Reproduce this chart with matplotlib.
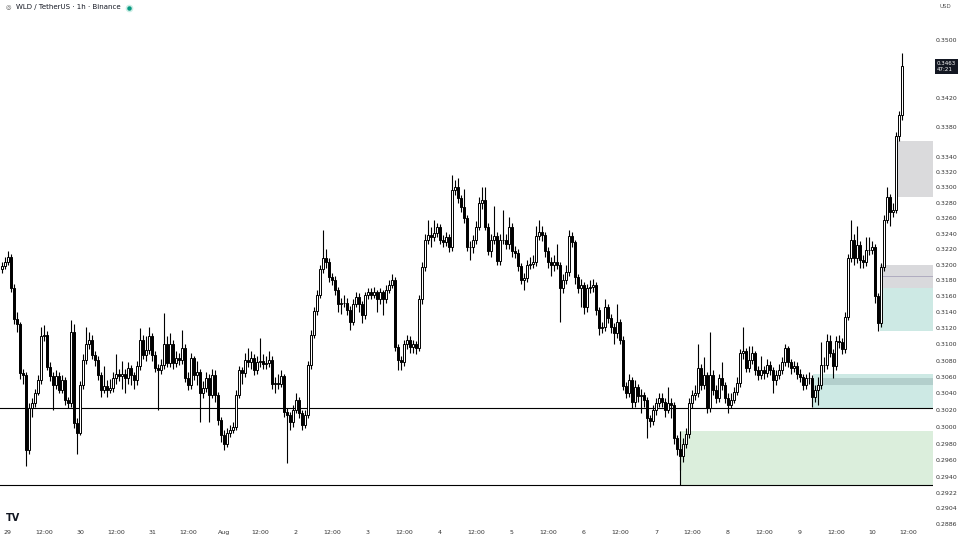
import matplotlib
matplotlib.use('Agg')
import matplotlib.pyplot as plt
import matplotlib.dates as mdates
import matplotlib.transforms as mtransforms
from matplotlib.patches import Rectangle
from matplotlib.ticker import FixedLocator, FixedFormatter, NullLocator
import numpy as np
import pandas as pd

# WLD/USDT 1h candles, prices in units of 0.0001
start = '2024-07-28 22:00'
first_open = 3195
closes = [
    3198, 3203, 3210, 3170, 3132, 3125, 3065, 3062, 2972, 3022,
    3028, 3041, 3056, 3111, 3112, 3072, 3061, 3050, 3061, 3044,
    3056, 3032, 3028, 3115, 3004, 2993, 3050, 3081, 3100, 3106,
    3087, 3081, 3062, 3044, 3049, 3044, 3047, 3059, 3064, 3061,
    3064, 3059, 3071, 3062, 3056, 3073, 3106, 3087, 3093, 3110,
    3087, 3071, 3069, 3075, 3100, 3077, 3100, 3077, 3083, 3081,
    3096, 3059, 3050, 3083, 3062, 3066, 3040, 3047, 3059, 3038,
    3062, 3038, 3008, 2990, 2980, 2993, 2996, 3000, 3038, 3068,
    3065, 3081, 3078, 3083, 3068, 3078, 3080, 3076, 3077, 3081,
    3052, 3053, 3052, 3061, 3018, 3014, 3006, 3020, 3032, 3017,
    3002, 3014, 3075, 3112, 3141, 3162, 3194, 3209, 3203, 3184,
    3181, 3168, 3150, 3152, 3152, 3143, 3128, 3150, 3159, 3150,
    3136, 3161, 3165, 3162, 3165, 3156, 3165, 3157, 3168, 3174,
    3181, 3097, 3081, 3078, 3100, 3106, 3097, 3100, 3096, 3156,
    3197, 3232, 3238, 3235, 3241, 3248, 3232, 3229, 3235, 3223,
    3297, 3300, 3286, 3275, 3260, 3223, 3222, 3232, 3249, 3279,
    3283, 3249, 3217, 3232, 3237, 3205, 3232, 3232, 3226, 3248,
    3217, 3215, 3198, 3180, 3183, 3200, 3201, 3203, 3237, 3242,
    3238, 3217, 3203, 3200, 3203, 3200, 3171, 3181, 3191, 3237,
    3229, 3184, 3171, 3174, 3146, 3171, 3172, 3174, 3143, 3120,
    3121, 3146, 3133, 3121, 3114, 3128, 3106, 3049, 3041, 3056,
    3030, 3048, 3037, 3038, 3032, 3010, 3007, 3020, 3028, 3034,
    3030, 3020, 3028, 3026, 2986, 2974, 2965, 2980, 2991, 3028,
    3038, 3040, 3071, 3050, 3062, 3023, 3062, 3044, 3035, 3059,
    3050, 3034, 3026, 3032, 3042, 3053, 3089, 3092, 3071, 3081,
    3089, 3069, 3062, 3069, 3065, 3075, 3069, 3056, 3062, 3069,
    3078, 3095, 3078, 3071, 3074, 3064, 3060, 3050, 3059, 3059,
    3036, 3044, 3050, 3075, 3075, 3104, 3090, 3073, 3104, 3103,
    3094, 3134, 3209, 3232, 3209, 3225, 3206, 3203, 3219, 3219,
    3222, 3160, 3127, 3197, 3258, 3288, 3268, 3271, 3368, 3396, 3463,
]
highs = [
    3204, 3210, 3218, 3214, 3175, 3140, 3128, 3070, 3066, 3028,
    3034, 3046, 3062, 3121, 3124, 3116, 3078, 3066, 3068, 3066,
    3062, 3060, 3036, 3130, 3125, 3010, 3055, 3088, 3121, 3115,
    3112, 3092, 3086, 3066, 3074, 3056, 3058, 3066, 3088, 3070,
    3080, 3070, 3078, 3075, 3066, 3080, 3120, 3112, 3110, 3122,
    3114, 3092, 3076, 3082, 3139, 3110, 3114, 3106, 3092, 3090,
    3118, 3100, 3066, 3090, 3086, 3080, 3070, 3055, 3066, 3064,
    3070, 3068, 3042, 3012, 2996, 2998, 3002, 3006, 3044, 3074,
    3072, 3090, 3095, 3092, 3088, 3086, 3108, 3088, 3086, 3092,
    3086, 3060, 3064, 3068, 3064, 3022, 3018, 3026, 3040, 3036,
    3020, 3020, 3080, 3118, 3146, 3168, 3200, 3245, 3220, 3208,
    3190, 3186, 3172, 3158, 3162, 3158, 3148, 3156, 3166, 3164,
    3154, 3166, 3170, 3170, 3172, 3168, 3170, 3168, 3174, 3180,
    3188, 3184, 3100, 3086, 3106, 3112, 3110, 3106, 3104, 3162,
    3204, 3240, 3258, 3248, 3258, 3254, 3252, 3238, 3242, 3240,
    3317, 3310, 3312, 3290, 3298, 3264, 3230, 3238, 3256, 3288,
    3301, 3301, 3254, 3240, 3276, 3242, 3240, 3271, 3240, 3262,
    3254, 3224, 3220, 3202, 3190, 3206, 3210, 3212, 3250, 3258,
    3250, 3242, 3222, 3210, 3212, 3226, 3204, 3188, 3200, 3245,
    3242, 3232, 3188, 3182, 3178, 3176, 3180, 3182, 3178, 3146,
    3128, 3156, 3150, 3138, 3126, 3150, 3132, 3110, 3054, 3064,
    3060, 3056, 3052, 3046, 3042, 3036, 3014, 3026, 3034, 3040,
    3040, 3034, 3048, 3034, 3030, 2990, 2980, 2986, 2998, 3034,
    3044, 3050, 3100, 3076, 3084, 3066, 3115, 3068, 3050, 3064,
    3078, 3054, 3040, 3040, 3048, 3060, 3094, 3121, 3096, 3098,
    3098, 3092, 3074, 3086, 3074, 3082, 3080, 3072, 3068, 3076,
    3084, 3100, 3098, 3082, 3080, 3078, 3070, 3064, 3064, 3066,
    3062, 3050, 3060, 3103, 3084, 3113, 3112, 3094, 3110, 3112,
    3108, 3140, 3214, 3258, 3240, 3250, 3230, 3212, 3236, 3236,
    3230, 3226, 3164, 3202, 3264, 3300, 3292, 3280, 3374, 3402, 3482,
]
lows = [
    3190, 3195, 3200, 3165, 3125, 3115, 3058, 3052, 2953, 2968,
    3012, 3024, 3038, 3052, 3104, 3068, 3055, 3020, 3045, 3040,
    3040, 3026, 3022, 3024, 2998, 2968, 2990, 3046, 3076, 3094,
    3082, 3074, 3056, 3036, 3040, 3036, 3040, 3042, 3052, 3055,
    3045, 3040, 3052, 3050, 3046, 3050, 3068, 3082, 3080, 3088,
    3080, 3066, 3020, 3064, 3070, 3072, 3072, 3070, 3072, 3075,
    3076, 3054, 3044, 3046, 3056, 3050, 3006, 3035, 3042, 3006,
    3034, 3030, 3002, 2982, 2972, 2976, 2988, 2992, 2996, 3034,
    3052, 3060, 3072, 3070, 3062, 3064, 3072, 3070, 3070, 3072,
    3046, 3040, 3046, 3048, 3012, 2957, 2996, 3000, 3016, 3010,
    2996, 2998, 3010, 3070, 3108, 3136, 3158, 3190, 3196, 3178,
    3174, 3162, 3140, 3138, 3146, 3136, 3118, 3124, 3146, 3140,
    3126, 3132, 3156, 3156, 3158, 3140, 3150, 3136, 3152, 3164,
    3170, 3092, 3069, 3068, 3074, 3094, 3090, 3090, 3088, 3092,
    3150, 3192, 3226, 3222, 3230, 3236, 3226, 3222, 3224, 3216,
    3218, 3290, 3280, 3268, 3254, 3218, 3206, 3215, 3226, 3244,
    3272, 3244, 3212, 3210, 3226, 3200, 3200, 3226, 3220, 3220,
    3210, 3208, 3192, 3176, 3168, 3178, 3194, 3196, 3198, 3232,
    3230, 3210, 3196, 3186, 3192, 3194, 3128, 3164, 3176, 3186,
    3222, 3176, 3164, 3146, 3138, 3140, 3164, 3166, 3136, 3112,
    3114, 3116, 3126, 3114, 3100, 3108, 3100, 3044, 3034, 3036,
    3022, 3024, 3030, 3016, 3024, 2987, 3000, 3002, 3014, 3024,
    3024, 3012, 3016, 3010, 2980, 2966, 2949, 2958, 2975, 2986,
    3022, 3032, 3036, 3044, 3046, 3016, 3018, 3038, 3028, 3030,
    3044, 3028, 3016, 3022, 3028, 3038, 3048, 3082, 3066, 3066,
    3076, 3062, 3056, 3058, 3058, 3060, 3062, 3041, 3050, 3058,
    3064, 3074, 3072, 3064, 3066, 3058, 3054, 3044, 3046, 3052,
    3024, 3030, 3026, 3046, 3066, 3070, 3084, 3059, 3068, 3096,
    3088, 3090, 3130, 3204, 3200, 3202, 3196, 3196, 3198, 3212,
    3214, 3152, 3116, 3122, 3192, 3254, 3250, 3262, 3266, 3362, 3390,
]

# drawn zones (left edge time, top price, bottom price, colour)
zone_left = ['2024-08-10 07:30', '2024-08-10 02:30', '2024-08-10 02:30',
             '2024-08-09 04:20', '2024-08-09 07:40', '2024-08-07 08:00']
zone_top = [0.3362, 0.3200, 0.3171, 0.3064, 0.3059, 0.2995]
zone_bottom = [0.3288, 0.3171, 0.3116, 0.3023, 0.3050, 0.2931]
zone_colour = ['#dadadc', '#d9d9dc', '#cde9e4', '#cde9e4', '#b3cfcc', '#dbeedc']

level_lines = [0.3023, 0.2931]
mid_line = 0.3185

price_ticks = [0.3500, 0.3420, 0.3380, 0.3340, 0.3320, 0.3300, 0.3280, 0.3260,
               0.3240, 0.3220, 0.3200, 0.3180, 0.3160, 0.3140, 0.3120, 0.3100,
               0.3080, 0.3060, 0.3040, 0.3020, 0.3000, 0.2980, 0.2960, 0.2940,
               0.2922, 0.2904, 0.2886]

closes = np.array(closes) / 10000
highs = np.array(highs) / 10000
lows = np.array(lows) / 10000
opens = np.concatenate([[first_open / 10000], closes[:-1]])

times = pd.date_range(start, periods=len(closes), freq='h')
x = mdates.date2num(times.to_pydatetime())

fig = plt.figure(figsize=(9.6, 5.4), dpi=100)
ax = fig.add_axes([0, 12 / 540, 933 / 960, 528 / 540])
ax.set_yscale('log')

x_left = mdates.date2num(pd.Timestamp('2024-07-28 21:20'))
x_right = mdates.date2num(pd.Timestamp('2024-08-10 20:20'))

# zones
for left, top, bottom, col in zip(zone_left, zone_top, zone_bottom, zone_colour):
    x0 = mdates.date2num(pd.Timestamp(left))
    ax.add_patch(Rectangle((x0, bottom), x_right - x0, top - bottom,
                           facecolor=col, edgecolor='none', zorder=1))
ax.hlines(mid_line, mdates.date2num(pd.Timestamp(zone_left[1])), x_right,
          color='#a9a4bb', lw=0.6, zorder=1.5)
for lv in level_lines:
    ax.axhline(lv, color='black', lw=0.8, zorder=1.5)
gx = mdates.date2num(pd.Timestamp(zone_left[5]))
ax.vlines(gx, zone_bottom[5], zone_top[5], color='black', lw=0.8, zorder=1.5)

# candles
up = closes >= opens
w = 0.6 / 24
ax.vlines(x, lows, highs, color='black', lw=0.8, zorder=2)
ax.bar(x, np.abs(closes - opens), bottom=np.minimum(opens, closes), width=w,
       color=np.where(up, 'white', 'black'), edgecolor='black', linewidth=0.7, zorder=3)

ax.set_xlim(x_left, x_right)
ax.set_ylim(0.28814, 0.35558)

# axes styling
for s in ax.spines.values():
    s.set_visible(False)
ax.yaxis.tick_right()
ax.yaxis.set_major_locator(FixedLocator(price_ticks))
ax.yaxis.set_major_formatter(FixedFormatter(['%.4f' % p for p in price_ticks]))
ax.yaxis.set_minor_locator(NullLocator())
ax.tick_params(axis='y', length=0, pad=2, labelsize=4.5, labelcolor='#333333')

tick_times = pd.date_range('2024-07-29 00:00', '2024-08-10 12:00', freq='12h')
tick_labels = []
for t in tick_times:
    if t.hour == 12:
        tick_labels.append('12:00')
    elif t.day == 1:
        tick_labels.append('Aug')
    else:
        tick_labels.append(str(t.day))
ax.set_xticks(mdates.date2num(tick_times.to_pydatetime()))
ax.set_xticklabels(tick_labels)
ax.tick_params(axis='x', length=0, pad=1.5, labelsize=4.5, labelcolor='#333333')

# last price label
tr = mtransforms.blended_transform_factory(ax.transAxes, ax.transData)
ax.text(1.004, closes[-1], '%.4f\n47:21' % closes[-1], transform=tr, fontsize=4,
        color='white', ha='left', va='center', linespacing=1.2,
        bbox=dict(boxstyle='square,pad=0.35', fc='#131722', ec='none'), clip_on=False)

# header / logo
fig.text(16 / 960, 1 - 7.5 / 540, 'WLD / TetherUS · 1h · Binance', fontsize=5,
         color='#131722', ha='left', va='center')
fig.text(8 / 960, 1 - 7.5 / 540, '◎', fontsize=4.5, color='#555555', ha='center', va='center')
ax.plot([129 / 960], [1 - 7.5 / 540], 'o', ms=4.5, color='#cdeee6', transform=fig.transFigure, clip_on=False)
ax.plot([129 / 960], [1 - 7.5 / 540], 'o', ms=2.2, color='#089981', transform=fig.transFigure, clip_on=False)
fig.text(945 / 960, 1 - 7 / 540, 'USD', fontsize=4, color='#555555', ha='center', va='center')
fig.text(6 / 960, 1 - 518 / 540, 'TV', fontsize=7, fontweight='heavy', color='#131722',
         ha='left', va='center')

plt.savefig('out.png', dpi=100)
